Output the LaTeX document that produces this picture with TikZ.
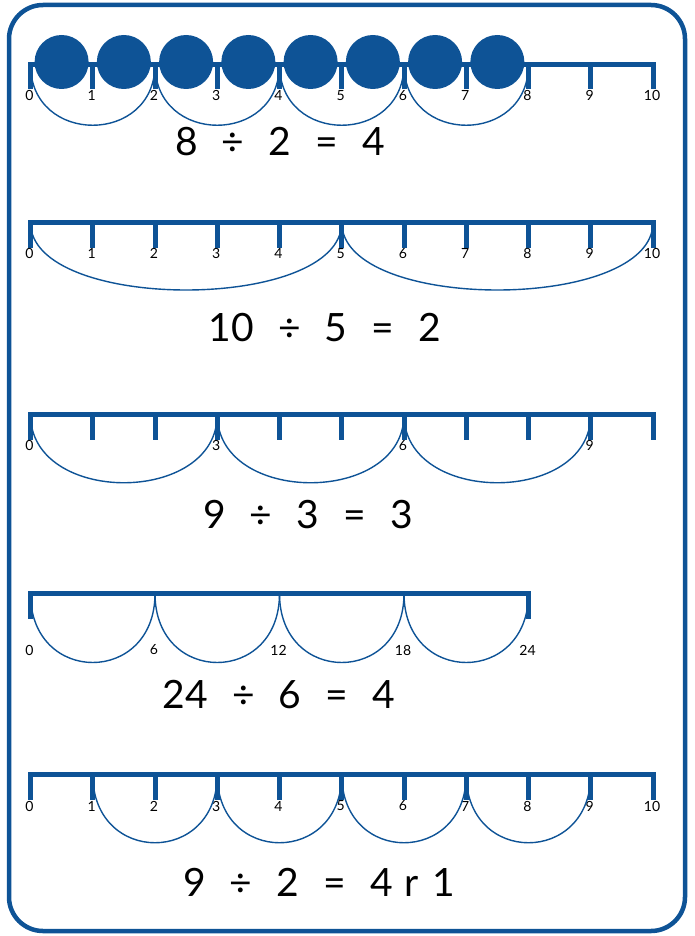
\documentclass[tikz,border=0pt]{standalone}
\usepackage{fontspec}
\setmainfont{Lato}
\usetikzlibrary{positioning}
\definecolor{nlblue}{RGB}{14,83,150}
\tikzset{
  frame/.style={draw=nlblue,line width=4.5pt,rounded corners=34pt},
  % number lines: bar with end ticks, inner ticks, hops below
  bar/.style={draw=nlblue,line width=5pt,line join=miter},
  tickmark/.style={draw=nlblue,line width=5pt},
  hop/.style={draw=nlblue,line width=1.4pt},
  bead/.style={circle,fill=nlblue,minimum size=54pt,inner sep=0pt},
  ticklab/.style={font=\fontsize{14}{14}\selectfont,inner sep=0pt},
  sum/.style={font=\fontsize{39}{39}\selectfont,inner sep=0pt}
}
\newcommand{\gap}{\hspace{0.62em}}

\begin{document}
\begin{tikzpicture}[x=1pt,y=-1pt]
\useasboundingbox (0,0) rectangle (694,936);
\draw[frame] (9,5) rectangle (685,931);
% ---------------- 8 : 2 = 4 ----------------
\begin{scope}[shift={(30.5,64.5)}]
  \foreach \i in {0,...,10} \coordinate (a\i) at (\i*62.25,0);
  \foreach \i in {1,...,9} \draw[tickmark] (a\i) -- ([yshift=-25pt]a\i);
  \draw[bar] ([yshift=-25pt]a0) -- (a0) -- (a10) -- ([yshift=-25pt]a10);
  \foreach \i in {0,...,7}
    \node[bead] (ab\i) at (\i*62.25+31.1,-2.5) {};
  \foreach \i in {0,...,10}
    \node[ticklab] (al\i) at ([xshift=-1pt,yshift=-31pt]a\i) {\i};
  \foreach \i/\j in {0/2,2/4,4/6,6/8}
    \draw[hop] (a\i) .. controls +(0,81) and +(0,81) .. (a\j);
\end{scope}
\node[sum] (s1) at (280,142) {8\gap÷\gap2\gap=\gap4};
% ---------------- 10 : 5 = 2 ----------------
\begin{scope}[shift={(30.5,222.5)}]
  \foreach \i in {0,...,10} \coordinate (b\i) at (\i*62.25,0);
  \foreach \i in {1,...,9} \draw[tickmark] (b\i) -- ([yshift=-25pt]b\i);
  \draw[bar] ([yshift=-25pt]b0) -- (b0) -- (b10) -- ([yshift=-25pt]b10);
  \foreach \i in {0,...,10}
    \node[ticklab] (bl\i) at ([xshift=-1pt,yshift=-31pt]b\i) {\i};
  \draw[hop] (b0) .. controls +(0,90) and +(0,90) .. (b5);
  \draw[hop] (b5) .. controls +(0,90) and +(0,90) .. (b10);
\end{scope}
\node[sum] (s2) at (325,328) {10\gap÷\gap5\gap=\gap2};
% ---------------- 9 : 3 = 3 ----------------
\begin{scope}[shift={(30.5,414.5)}]
  \foreach \i in {0,...,10} \coordinate (c\i) at (\i*62.25,0);
  \foreach \i in {1,...,9} \draw[tickmark] (c\i) -- ([yshift=-25pt]c\i);
  \draw[bar] ([yshift=-25pt]c0) -- (c0) -- (c10) -- ([yshift=-25pt]c10);
  \foreach \i in {0,3,6,9}
    \node[ticklab] (cl\i) at ([xshift=-1pt,yshift=-31pt]c\i) {\i};
  \foreach \i/\j in {0/3,3/6,6/9}
    \draw[hop] (c\i) .. controls +(0,91) and +(0,91) .. (c\j);
\end{scope}
\node[sum] (s3) at (308,515) {9\gap÷\gap3\gap=\gap3};
% ---------------- 24 : 6 = 4 ----------------
\begin{scope}[shift={(30.5,593.5)}]
  \foreach \i in {0,...,8} \coordinate (d\i) at (\i*62.25,0);
  \draw[bar] ([yshift=-25pt]d0) -- (d0) -- (d8) -- ([yshift=-25pt]d8);
  \foreach \i/\n in {0/0,2/6,4/12,6/18,8/24}
    \node[ticklab] (dl\i) at ([xshift=-1pt,yshift=-56.5pt]d\i) {\n};
  \foreach \i/\j in {0/2,2/4,4/6,6/8}
    \draw[hop] (d\i) .. controls +(0,92) and +(0,92) .. (d\j);
\end{scope}
\node[sum] (s4) at (279,695) {24\gap÷\gap6\gap=\gap4};
% ---------------- 9 : 2 = 4 r 1 ----------------
\begin{scope}[shift={(30.5,774.5)}]
  \foreach \i in {0,...,10} \coordinate (e\i) at (\i*62.25,0);
  \foreach \i in {1,...,9} \draw[tickmark] (e\i) -- ([yshift=-25pt]e\i);
  \draw[bar] ([yshift=-25pt]e0) -- (e0) -- (e10) -- ([yshift=-25pt]e10);
  \foreach \i in {0,...,10}
    \node[ticklab] (el\i) at ([xshift=-1pt,yshift=-31.5pt]e\i) {\i};
  \foreach \i/\j in {1/3,3/5,5/7,7/9}
    \draw[hop] (e\i) .. controls +(0,91) and +(0,91) .. (e\j);
\end{scope}
\node[sum] (s5) at (319,882) {9\gap÷\gap2\gap=\gap4\hspace{0.3em}r\hspace{0.35em}1};
\end{tikzpicture}
\end{document}
